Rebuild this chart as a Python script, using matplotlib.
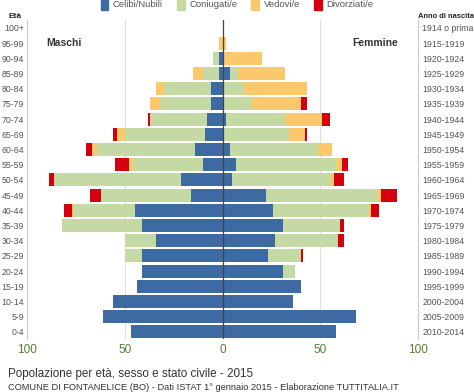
import numpy as np
import matplotlib
matplotlib.use('Agg')
from matplotlib import pyplot as plt
from matplotlib.patches import Patch

plt.rcParams['font.family'] = ['Liberation Sans', 'DejaVu Sans']

# age classes from youngest to oldest
ages = ['0-4', '5-9', '10-14', '15-19', '20-24', '25-29', '30-34', '35-39', '40-44', '45-49',
        '50-54', '55-59', '60-64', '65-69', '70-74', '75-79', '80-84', '85-89', '90-94', '95-99', '100+']
years = ['2010-2014', '2005-2009', '2000-2004', '1995-1999', '1990-1994', '1985-1989', '1980-1984',
         '1975-1979', '1970-1974', '1965-1969', '1960-1964', '1955-1959', '1950-1954', '1945-1949',
         '1940-1944', '1935-1939', '1930-1934', '1925-1929', '1920-1924', '1915-1919', '1914 o prima']

# males
m_celibi      = [47, 61, 56, 44, 41, 41, 34, 41, 45, 16, 21, 10, 14, 9, 8, 6, 6, 2, 2, 0, 0]
m_coniugati   = [0, 0, 0, 0, 0, 9, 16, 41, 31, 46, 65, 36, 50, 41, 29, 26, 24, 8, 3, 0, 0]
m_vedovi      = [0, 0, 0, 0, 0, 0, 0, 0, 1, 0, 0, 2, 3, 4, 0, 5, 4, 5, 0, 2, 0]
m_divorziati  = [0, 0, 0, 0, 0, 0, 0, 0, 4, 6, 3, 7, 3, 2, 1, 0, 0, 0, 0, 0, 0]

# females
f_nubili      = [58, 68, 36, 40, 31, 23, 27, 31, 26, 22, 5, 7, 4, 1, 2, 1, 1, 4, 1, 0, 0]
f_coniugate   = [0, 0, 0, 0, 6, 17, 32, 29, 49, 57, 50, 51, 45, 33, 30, 14, 10, 4, 0, 0, 0]
f_vedove      = [0, 0, 0, 0, 0, 0, 0, 0, 1, 2, 2, 3, 7, 8, 19, 25, 32, 24, 19, 2, 0]
f_divorziate  = [0, 0, 0, 0, 0, 1, 3, 2, 4, 8, 5, 3, 0, 1, 4, 3, 0, 0, 0, 0, 0]

colors = ['#3d6aa2', '#c4d9a4', '#fcc86c', '#d40010']
names = ['Celibi/Nubili', 'Coniugati/e', 'Vedovi/e', 'Divorziati/e']

fig = plt.figure(figsize=(4.74, 3.92), dpi=100)
ax = fig.add_axes([0.057, 0.134, 0.825, 0.814])

y = np.arange(len(ages))
h = 0.86

male = [m_celibi, m_coniugati, m_vedovi, m_divorziati]
female = [f_nubili, f_coniugate, f_vedove, f_divorziate]

left = np.zeros(len(ages))
for vals, c in zip(male, colors):
    v = np.array(vals, dtype=float)
    ax.barh(y, -v, left=-left, height=h, color=c, zorder=2)
    left += v

left = np.zeros(len(ages))
for vals, c in zip(female, colors):
    v = np.array(vals, dtype=float)
    ax.barh(y, v, left=left, height=h, color=c, zorder=2)
    left += v

ax.set_xlim(-100, 100)
ax.set_ylim(-0.5, len(ages) - 0.5)
ax.axvline(0, color='#444444', lw=0.9, zorder=3)
for gx in [-50, 50]:
    ax.axvline(gx, color='#dddddd', lw=0.7, zorder=1)

ax.set_xticks([-100, -50, 0, 50, 100])
ax.set_xticklabels(['100', '50', '0', '50', '100'], color='#5a7a35', fontsize=8.5)
ax.tick_params(axis='x', length=0, pad=3)
ax.set_yticks(y)
ax.set_yticklabels(ages, fontsize=6.3, color='#555555')
ax.tick_params(axis='y', length=0, pad=2)

ax2 = ax.twinx()
ax2.set_ylim(ax.get_ylim())
ax2.set_yticks(y)
ax2.set_yticklabels(years, fontsize=6.3, color='#555555')
ax2.tick_params(axis='y', length=0, pad=3)

for a in [ax, ax2]:
    a.spines['top'].set_visible(False)
    a.spines['bottom'].set_visible(False)
    a.spines['left'].set_color('#cccccc')
    a.spines['right'].set_color('#cccccc')
    a.spines['left'].set_linewidth(0.8)
    a.spines['right'].set_linewidth(0.8)

ax.text(-81, 19, 'Maschi', fontsize=7.5, fontweight='bold', color='#333333', ha='center', va='center')
ax.text(78, 19, 'Femmine', fontsize=7.5, fontweight='bold', color='#333333', ha='center', va='center')

fig.text(0.018, 0.958, 'Età', fontsize=6, fontweight='bold', color='#222222', va='center')
fig.text(0.881, 0.958, 'Anno di nascita', fontsize=5.4, fontweight='bold', color='#222222', va='center')

handles = [Patch(color=c) for c in colors]
fig.legend(handles, names, ncol=4, loc='center', bbox_to_anchor=(0.5, 0.99), frameon=False,
           fontsize=6.8, handlelength=0.8, handleheight=1.7, handletextpad=0.5, columnspacing=1.5,
           labelcolor='#555555')

fig.text(0.017, 0.046, 'Popolazione per età, sesso e stato civile - 2015', fontsize=8.4, color='#333333', va='center')
fig.text(0.017, 0.012, 'COMUNE DI FONTANELICE (BO) - Dati ISTAT 1° gennaio 2015 - Elaborazione TUTTITALIA.IT',
         fontsize=6.7, color='#333333', va='center')

fig.savefig('out.png', dpi=100)
